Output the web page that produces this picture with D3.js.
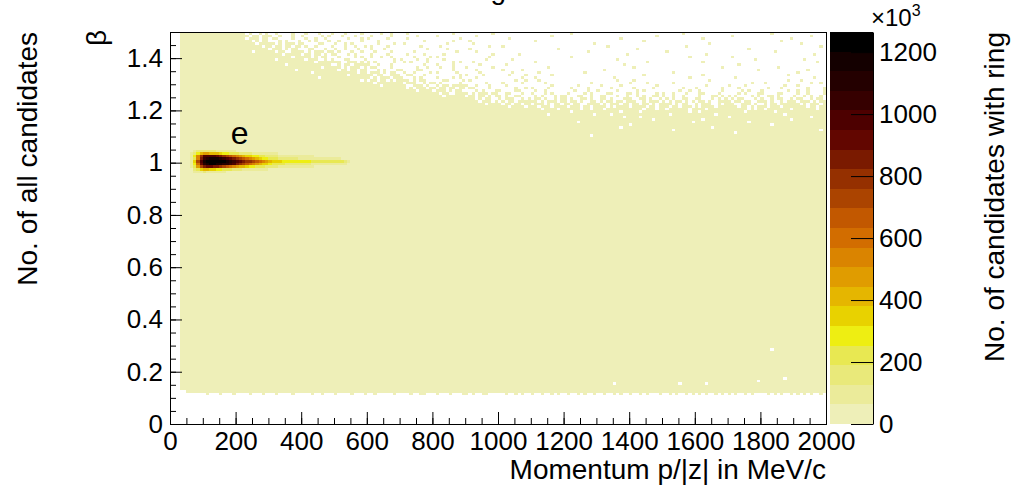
<!DOCTYPE html>
<html><head><meta charset="utf-8">
<script src="https://cdn.jsdelivr.net/npm/d3@7"></script>
<style>body{margin:0;background:#fff}text{font-family:"Liberation Sans",Arial,Helvetica,sans-serif;fill:#000}</style>
</head><body><svg id="c" width="1013" height="486"></svg>
<script>
// ---------------- data ----------------
const xDomain = [0, 2000];            // momentum p/|z| (MeV/c)
const yDomain = [0, 1.5];             // beta
const zMax = 1265;                    // counts (x10^3)
const binWidthP = 10, binHeightB = 0.01;
const xMajorTicks = [0,200,400,600,800,1000,1200,1400,1600,1800,2000];
const yMajorTicks = [0,0.2,0.4,0.6,0.8,1.0,1.2,1.4];
const zTicks = [0,200,400,600,800,1000,1200];
const palette = ["#eeefb8","#ebeb9a","#e9e97a","#e8e852","#eeee12","#e8d200","#e5b600","#e09c00",
  "#da8400","#d26d00","#c25800","#ab4400","#953000","#7a1a00","#620600","#4d0000","#360000",
  "#240000","#140000","#000000"];
const firstColumnP = 30;           // first occupied momentum bin (MeV/c)
const solidTopBeta = 1.09;         // all bins up to this beta are occupied
const baseCount = 5;               // typical content (x10^3) of the pale region
// lower edge of the occupied band per 10 MeV column: digit d -> beta 0.10 + d*0.01
const bottomEdge = "0003322222 2122212221 2222122212 2212222122 2221221222 1222212221 2212222212 2221221122 2122212221 1212211222 2212212122 1221221212 2122121221 2212212122 1221212221 2212122121 2121221212 1212212122 2212121221 2121212212";
// occupancy of the upper rows (beta 1.49 ... 1.10), one char per 10 MeV column
const topRowBetas = [1.49,1.48,1.47,1.46,1.45,1.44,1.43,1.42,1.41,1.40,1.39,1.38,1.37,1.36,1.35,1.34,1.33,1.32,1.31,1.30,
  1.29,1.28,1.27,1.26,1.25,1.24,1.23,1.22,1.21,1.20,1.19,1.18,1.17,1.16,1.15,1.14,1.13,1.12,1.11,1.10];
const topRows = [
"...####### ########## ###.#..#.# ..#....#.. .#...#...# ...#....#. ....#..#.. ..#....... ......#... ........#. .......... .......... ..#....... .......... .......... ......#... .......... .......... ...#...... ..........",
"...####### ########## ####.##.## #..#...#.. #.....#.#. ..#...#... .#.....#.. .....#.... .#........ ...#...... .......... ......#... .......... .......... ........#. .......... .......... .#........ .......... .....#....",
"...####### ########## ###.###.## .##....#.. .#..#..#.. ....#...#. #.....#... ..#....... ........#. .......... ...#...... .......... .......... .......#.. .......... .......... ..#....... .......... .........# ..........",
"...####### ########## #####.#.## ...#.#...# ..#.#...#. .#......#. ...#...... .......#.. ......#... .#........ .......... .#........ .......... .......... ....#..... .......... .......... .......... ......#... ..........",
"...####### ########## ######.### ##.#.###.# #....##... #..#.#.... ...#....#. .#........ ....#..... ..#....... .......... .......... .........# .......... .......... .......... ....#..... .......... .......... ..#.......",
"...####### ########## ########.# #.##.##.## .#..#....# ...#..#..# .#....#... ......#... ..#....... .......#.. .#........ .......... .......... ...#...... .......... .......#.. .......... .......... .......... ........#.",
"...####### ########## ########## .###.#.##. ..##...#.. #..#...#.. .#...#.... ........#. ....#..... .#........ .......... ........#. .......... .......... ..#....... .......... .......... ......#... .......... ..........",
"...####### ########## #####.#### ##.##..### #.#.###.## .#...#..#. ..#....#.. ....#..... .......#.. ...#...... .......... .......... .......#.. .......... .......... .#........ .......... .......... ....#..... ..........",
"...####### ########## ########## ####.##### .##.##.#.# #...#.#... .#....#... ..#....#.. ...#...... ........#. ......#... .......... .......... .........# .......... .......... ...#...... .......... .......... ......#...",
"...####### ########## ########## #######.## ###.#.##.. .#....#.#. .#..#..#.. ....#....# .#........ .......#.. .......... .......... ..#....... .......... .......... ........#. .......... .#........ .......... ..........",
"...####### ########## ########## ##.####### #.###..#.# ...##....# ........#. #....#..#. ...#...... ......#... ....#..... .......... .......... ......#... .......... .......... .......... ........#. .......... ...#......",
"...####### ########## ########## ########## ####.##### ##..###.#. #.#.....#. .#.#....#. ......#.#. ..#....... .......... .#........ .......... .......... .....#.... .......... ..#....... .......... .......... .......#..",
"...####### ########## ########## #####.#### #########. .#.##.#### #..#...#.. .......#.. .#....#... ....#..... ..#....... .......... .......... ........#. .......... .......... .......... ...#...... .......... ..........",
"...####### ########## ########## ########## ######.### ##.#.###.# .##....#.. .....#..#. ..#...#... #.......#. .......... .....#.... .......... .......... .#........ .......... ........#. .......... .....#.... ..........",
"...####### ########## ########## ########.# ########## #.##.##.## ...#.#...# #....##... ......#... ...#...... .#.....#.. .......... .......... ..#....... .......... .......... .......... .........# .......... ....#.....",
"...####### ########## ########## ########## ###.###### #######.## .###.#.##. .#..#....# .#.....#.. ....#..... ....#..... ..#....... ......#... .......... .......... ...#...... .......... .......... .......... .#........",
"...####### ########## ########## ########## ########## ####.##### ##.##..### ..##...#.. ........#. #....#.... ...#....#. ......#... .......... .......... ....#..... .......... ..#....... .......... ........#. ..........",
"...####### ########## ########## ########## #####.#### ########## #.#.###.## #...#.#... .#....#.#. ...#...... .......#.. .#........ .......... .....#.... .......... ........#. .......... ..#....... .......... ......#...",
"...####### ########## ########## ########## ########## ########.# .##.##.#.# ###.#.##.. ...##....# .#........ .....#..#. ..#....... .......... ......#... .#........ .......... ....#..... .......... ........#. ..#.......",
"...####### ########## ########## ########## ########## ########## ##.####### #.###..#.# #.#.....#. ......#... .#.....#.. ....#..... ........#. .......... #....#.... ...#...... .......... .......#.. .#........ .....#..#.",
"...####### ########## ########## ########## ########## ########## ####.##### ##..###.#. .#.##.#### #..#...#.. ..#....... ......#... ....#..... .#.....#.. ........#. .......... ...#...... #....#.... .......#.. .#........",
"...####### ########## ########## ########## ########## ########## ########## ##.#.###.# #.##.##.## .##....#.. .....#..#. #....#.... ..#....#.. ....#..... .#.....#.. ......#... #.......#. ...#...... ..#...#... ....#....#",
"...####### ########## ########## ########## ########## ########## ########## #####.#### .###.#.##. ...#.#...# #....##... .#..#..... ...#...#.. #.....#... ..#.#..... .....#..#. .#......#. ....#.#... #.......#. .#..#....#",
"...####### ########## ########## ########## ########## ########## ########## ########## ##.##..### #.#.###.## ..##...#.. #...#.#... .#....#.#. ...##....# #.#.....#. #..#...#.. .##....#.. ...#.#...# #....##... .#..#....#",
"...####### ########## ########## ########## ########## ########## ########## ########## ###.###### .##.##.#.# #.#..##... .#.#...#.# #...##..#. .##...#..# ..#.#..##. #..#..#... .#...##.#. #.#....#.# ..##.#.... #..#.#..#.",
"...####### ########## ########## ########## ########## ########## ########## ########## ########## ###.#.##.. #.###..#.# .##.#..#.# #.#..##.#. .##.#...## #..##.#..# .#.#..##.. ##...#.#.# .#.##...#. #..#.##..# .##..#.##.",
"...####### ########## ########## ########## ########## ########## ########## ########## ########## ####.###.# .#.##.#### ##.#.###.# #.##.#..## .#.##.##.# ##..#.###. #.#.##.#.# .##.#..### #.##.##..# ##.#..#.## #.###.#.##",
"...####### ########## ########## ########## ########## ########## ########## ########## ########## ######.### #.##.##.## .###.#.##. ##.##..### #.#.###.## .##.##.#.# ###.#.##.. #.###..#.# ##..###.#. .#.##.#### ##.#.###.#",
"...####### ########## ########## ########## ########## ########## ########## ########## ########## ########## ###.####.# ##.###.### #.###.##.# ###.#.#### .####.##.# ##.##.###. #.####.### ###.##.#.# ##.###.### ####.##.##",
"...####### ########## ########## ########## ########## ########## ########## ########## ########## ########## ########## ###.####.# #####.##.# ##.####### ####.###.# #.######.# ###.###### ######.#.# #.#######. #######.##",
"...####### ########## ########## ########## ########## ########## ########## ########## ########## ########## ########## ########## ##.####### #######.## ###.###### ########.# #.######## #####.#### ####.##### ##########",
"...####### ########## ########## ########## ########## ########## ########## ########## ########## ########## ########## #####.#### #########. ####.##### ########## ##.####### ######.### ########## #######.## ##########",
"...####### ########## ########## ########## ########## ########## ########## ########## ########## ########## ########## ########## ########## ########.# ###.###### ########## ########## .######### ########## #####.####",
"...####### ########## ########## ########## ########## ########## ########## ########## ########## ########## ########## ########## ########## ########## #######.## ########## ##.####### ########## #########. ##########",
"...####### ########## ########## ########## ########## ########## ########## ########## ########## ########## ########## ########## ####.##### ########## ########## #########. ########## ######.### ########## ##########",
"...####### ########## ########## ########## ########## ########## ########## ########## ########## ########## ########## ########## ########## ########## .######### ########## ########## ########## ###.###### ##########",
"...####### ########## ########## ########## ########## ########## ########## ########## ########## ########## ########## ########## ########## #######.## ########## ########## #####.#### ########## ########## ##########",
"...####### ########## ########## ########## ########## ########## ########## ########## ########## ########## ########## ########## ########## ########## ########## ###.###### ########## ########## ########## ########.#",
"...####### ########## ########## ########## ########## ########## ########## ########## ########## ########## ########## ########## ########## ########## ########## ########## ########## ##.####### ########## ##########",
"...####### ########## ########## ########## ########## ########## ########## ########## ########## ########## ########## ########## ########.# ########## ########## ########## ########## ########## ########## ##########"
];
// empty bins inside the band: [p (MeV/c), beta]
const holes = [[1830,0.28],[1350,0.15],[1550,0.15],[1630,0.15],[1790,0.16],[1870,0.17]];
// electron peak around beta = 1: counts (x10^3) per 10 MeV column starting at 50 MeV/c
const hotStartP = 50;
const hotBetas = [1.04,1.03,1.02,1.01,1.00,0.99,0.98,0.97,0.96];
const hotRows = [
 [14,42,85,135,160,170,160,147,133,119,106,95,85,77,70,62,55,50,45],
 [20,70,170,310,420,460,460,440,415,380,345,310,278,250,224,202,182,164,147,133,120,109,99,91,84,78,73,67,63,59,56,53,50,48,45,42,39,36,34,31,29,28,27,25,24,22,21,20,17,14,11],
 [25,90,260,550,800,950,1000,1000,975,930,870,805,735,665,590,525,470,415,370,325,290,255,225,200,177,158,143,130,120,110,104,97,91,86,80,75,72,68,65,62,60,57,55,52,49,47,44,42,39,32,26],
 [20,80,250,550,850,1030,1120,1160,1160,1140,1100,1050,990,920,850,780,710,640,580,520,460,410,360,310,270,240,215,195,180,165,155,145,135,128,120,115,110,105,100,95,90,85,80,76,72,68,65,60,50,40,25],
 [30,120,350,700,1000,1150,1230,1260,1265,1255,1240,1215,1180,1120,1060,1000,940,880,820,760,700,640,580,520,460,410,370,340,320,305,295,290,285,280,275,270,265,258,250,240,232,225,218,212,206,200,195,190,160,110,60],
 [20,90,280,600,900,1080,1170,1210,1215,1200,1170,1130,1080,1020,950,880,810,740,670,600,540,480,420,370,320,280,250,225,205,190,180,170,160,150,145,140,135,130,125,120,115,110,105,100,95,90,85,80,70,50,30],
 [20,78,235,495,730,860,910,910,885,845,795,740,675,610,545,490,435,390,345,305,275,240,215,190,170,153,140,130,120,110,104,97,91,86,80,75,72,68,65,62,60,57,55,52,49,47,44,42,39,32,26],
 [14,56,140,250,335,380,380,357,330,300,273,245,220,196,175,157,140,126,113,102,92,84,78,73,67,63,59,56,53,50,48,45,42,39,36,34,31,29,28,27,25,24,22,21,20,18,17,15,14,13,11],
 [14,35,70,105,126,133,126,112,98,87,77,68,60,54]
];
const titleText = "All candidates with ring";
const xTitle = "Momentum p/|z| in MeV/c";
const yTitle = "\u03b2";
const leftTitle = "No. of all candidates";
const zTitle = "No. of candidates with ring";
const peakLabel = "e";

// ---------------- layout ----------------
const svg = d3.select("#c");
const L = 170, R = 826, T = 32, B = 424;
const x = d3.scaleLinear().domain(xDomain).range([L, R]);
const y = d3.scaleLinear().domain(yDomain).range([B, T]);
const color = d3.scaleQuantize().domain([0, zMax]).range(palette);

// ---------------- histogram grid ----------------
const nCols = Math.round((xDomain[1]-xDomain[0])/binWidthP);
const nRows = Math.round((yDomain[1]-yDomain[0])/binHeightB);
const grid = Array.from({length: nCols}, () => new Array(nRows).fill(0));
const bottom = bottomEdge.replace(/ /g, "");
const firstCol = Math.round(firstColumnP/binWidthP);
const solidTopRow = Math.round(solidTopBeta/binHeightB);
for (let c = firstCol; c < nCols; c++) {
  const lo = 10 + (+bottom[c]);
  for (let j = lo; j <= solidTopRow; j++) grid[c][j] = baseCount;
}
topRows.forEach((s, k) => {
  const row = s.replace(/ /g, "");
  const j = Math.round(topRowBetas[k]/binHeightB);
  for (let c = 0; c < nCols; c++) if (row[c] === "#") grid[c][j] = baseCount;
});
holes.forEach(([p, b]) => { grid[Math.floor(p/binWidthP)][Math.round(b/binHeightB)] = 0; });
hotRows.forEach((vals, k) => {
  const j = Math.round(hotBetas[k]/binHeightB);
  vals.forEach((v, i) => { const c = Math.round(hotStartP/binWidthP) + i; grid[c][j] = Math.max(grid[c][j], v); });
});
const cells = [];
for (let c = 0; c < nCols; c++) for (let j = 0; j < nRows; j++) if (grid[c][j] > 0) cells.push({c, j, v: grid[c][j]});

svg.append("g").attr("shape-rendering", "crispEdges")
  .selectAll("rect").data(cells).join("rect")
  .attr("x", d => x(d.c*binWidthP))
  .attr("width", d => x((d.c+1)*binWidthP) - x(d.c*binWidthP))
  .attr("y", d => y((d.j+1)*binHeightB))
  .attr("height", d => y(d.j*binHeightB) - y((d.j+1)*binHeightB))
  .attr("fill", d => color(d.v));

// ---------------- axes ----------------
const fs = 26;
const xMinor = d3.range(0, 2001, 50);
const yMinor = d3.range(0, 1.5001, 0.05).map(v => +v.toFixed(2));
function styleAxis(g) {
  g.select(".domain").remove();
  g.selectAll("line").attr("stroke", "#000").attr("stroke-width", 1);
  g.selectAll("text").style("font-size", fs + "px").style("font-family", '"Liberation Sans",Arial,sans-serif');
}
svg.append("g").attr("transform", `translate(0,${B})`)
  .call(d3.axisBottom(x).tickValues(xMinor).tickSize(-6).tickFormat("")).call(styleAxis);
svg.append("g").attr("transform", `translate(0,${B})`)
  .call(d3.axisBottom(x).tickValues(xMajorTicks).tickSize(-12).tickPadding(8).tickFormat(d3.format("d"))).call(styleAxis);
svg.append("g").attr("transform", `translate(${L},0)`)
  .call(d3.axisLeft(y).tickValues(yMinor).tickSize(-6).tickFormat("")).call(styleAxis);
svg.append("g").attr("transform", `translate(${L},0)`)
  .call(d3.axisLeft(y).tickValues(yMajorTicks).tickSize(-12).tickPadding(7).tickFormat(d => d3.format("")(+d.toFixed(1)))).call(styleAxis);

svg.append("rect").attr("x", L).attr("y", T).attr("width", R-L).attr("height", B-T)
  .attr("fill", "none").attr("stroke", "#000").attr("stroke-width", 1).attr("shape-rendering", "crispEdges");

// ---------------- colour bar ----------------
const zL = 830, zR = 873;
const z = d3.scaleLinear().domain([0, zMax]).range([B, T]);
const levels = d3.range(palette.length).map(i => [i*zMax/palette.length, (i+1)*zMax/palette.length]);
svg.append("g").attr("shape-rendering", "crispEdges").selectAll("rect").data(levels).join("rect")
  .attr("x", zL).attr("width", zR - zL)
  .attr("y", d => z(d[1])).attr("height", d => z(d[0]) - z(d[1]))
  .attr("fill", d => color((d[0]+d[1])/2));
const zAxis = svg.append("g").attr("transform", `translate(${zR},0)`)
  .call(d3.axisRight(z).tickValues(zTicks).tickSize(-22).tickSizeOuter(0).tickPadding(6).tickFormat(d3.format("d")));
zAxis.select(".domain").attr("stroke", "#000");
zAxis.selectAll("line").attr("stroke", "#000");
zAxis.selectAll("text").style("font-size", fs + "px");
const exp = svg.append("text").attr("x", 871).attr("y", 26).style("font-size", "24px");
exp.append("tspan").text("\u00d710");
exp.append("tspan").attr("dy", -10).style("font-size", "16px").text("3");

// ---------------- titles ----------------
svg.append("text").attr("x", 506).attr("y", -1).attr("text-anchor", "end").style("font-size", "28px").text(titleText);
svg.append("text").attr("x", R).attr("y", 479).attr("text-anchor", "end").style("font-size", "28px").text(xTitle);
svg.append("text").attr("transform", "translate(106,30) rotate(-90)").attr("text-anchor", "end").style("font-size", "28px").text(yTitle);
svg.append("text").attr("transform", "translate(37,32) rotate(-90)").attr("text-anchor", "end").style("font-size", "28px").text(leftTitle);
svg.append("text").attr("transform", "translate(1004,32) rotate(-90)").attr("text-anchor", "end").style("font-size", "28px").text(zTitle);
svg.append("text").attr("x", x(185)).attr("y", y(1.07)).style("font-size", "32px").text(peakLabel);
</script></body></html>
